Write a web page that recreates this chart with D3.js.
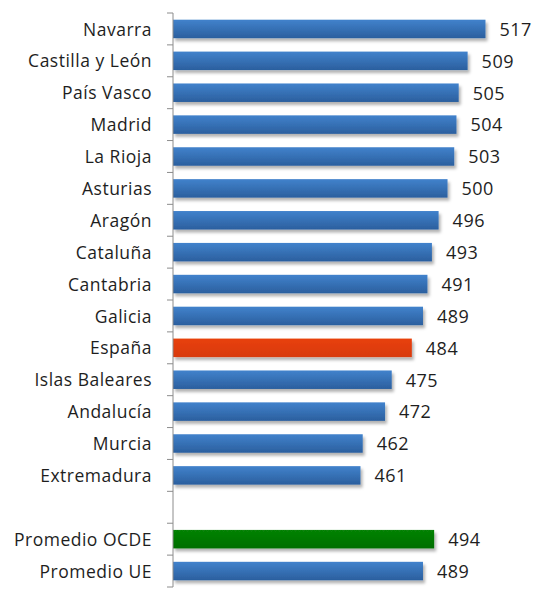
<!DOCTYPE html>
<html>
<head>
<meta charset="utf-8">
<script src="https://cdn.jsdelivr.net/npm/d3@7"></script>
<style>
  body { margin: 0; background: #fff; }
  text { font-family: "Open Sans", sans-serif; fill: #1e1e1e; }
</style>
</head>
<body>
<div id="chart"></div>
<script>
// PISA scores by region (blank row separates the averages)
var regions = ["Navarra", "Castilla y León", "País Vasco", "Madrid", "La Rioja", "Asturias",
  "Aragón", "Cataluña", "Cantabria", "Galicia", "España", "Islas Baleares", "Andalucía",
  "Murcia", "Extremadura", "", "Promedio OCDE", "Promedio UE"];
var scores = [517, 509, 505, 504, 503, 500, 496, 493, 491, 489, 484, 475, 472, 462, 461, null, 494, 489];
var kinds = ["r", "r", "r", "r", "r", "r", "r", "r", "r", "r", "es", "r", "r", "r", "r", "gap", "ocde", "r"];

var data = regions.map(function (d, i) {
  return { key: i, name: d, value: scores[i], kind: kinds[i] };
});

var width = 540, height = 611;
var margin = { top: 13, right: 0, bottom: 24, left: 173 };

var svg = d3.select("#chart").append("svg")
  .attr("width", width)
  .attr("height", height);

var defs = svg.append("defs");
function grad(id, top, bottom) {
  var g = defs.append("linearGradient").attr("id", id)
    .attr("x1", 0).attr("y1", 0).attr("x2", 0).attr("y2", 1);
  g.append("stop").attr("offset", "0%").attr("stop-color", top);
  g.append("stop").attr("offset", "100%").attr("stop-color", bottom);
}
grad("gBlue", "#4182cc", "#2b5f9e");
grad("gRed", "#e8400c", "#d83a08");
grad("gGreen", "#078207", "#006f00");

var f = defs.append("filter").attr("id", "shadow")
  .attr("x", "-5%").attr("y", "-30%").attr("width", "115%").attr("height", "190%");
f.append("feDropShadow").attr("dx", 2).attr("dy", 3).attr("stdDeviation", 1.5)
  .attr("flood-color", "#000").attr("flood-opacity", 0.3);

var y = d3.scaleBand()
  .domain(data.map(function (d) { return d.key; }))
  .range([margin.top, height - margin.bottom])
  .paddingInner(0.42)
  .paddingOuter(0.21);

var x = d3.scaleLinear()
  .domain([377, 540])
  .range([margin.left, margin.left + 163 * 2.232]);

var fills = { r: "url(#gBlue)", es: "url(#gRed)", ocde: "url(#gGreen)" };

var bars = data.filter(function (d) { return d.value != null; });

svg.append("g")
  .selectAll("rect")
  .data(bars)
  .enter()
  .append("rect")
  .attr("x", x(377))
  .attr("y", function (d) { return y(d.key); })
  .attr("width", function (d) { return x(d.value) - x(377); })
  .attr("height", y.bandwidth())
  .attr("fill", function (d) { return fills[d.kind]; })
  .attr("filter", "url(#shadow)");

// value labels
svg.append("g")
  .selectAll("text")
  .data(bars)
  .enter()
  .append("text")
  .attr("x", function (d) { return x(d.value) + 14; })
  .attr("y", function (d) { return y(d.key) + y.bandwidth() / 2; })
  .attr("dy", "0.38em")
  .style("font-size", "18px")
  .style("letter-spacing", "0.5px")
  .text(function (d) { return d.value; });

// category axis (left)
var step = y.step();
var axisG = svg.append("g");
axisG.append("line")
  .attr("x1", margin.left).attr("x2", margin.left)
  .attr("y1", margin.top).attr("y2", height - margin.bottom)
  .attr("stroke", "#8c8c8c").attr("stroke-width", 1);
axisG.selectAll("line.tick")
  .data(d3.range(data.length + 1))
  .enter()
  .append("line")
  .attr("class", "tick")
  .attr("x1", margin.left - 6).attr("x2", margin.left)
  .attr("y1", function (i) { return margin.top + i * step; })
  .attr("y2", function (i) { return margin.top + i * step; })
  .attr("stroke", "#8c8c8c").attr("stroke-width", 1);

axisG.selectAll("text")
  .data(data)
  .enter()
  .append("text")
  .attr("x", margin.left - 21)
  .attr("y", function (d) { return y(d.key) + y.bandwidth() / 2; })
  .attr("dy", "0.38em")
  .attr("text-anchor", "end")
  .style("font-size", "17.5px")
  .style("letter-spacing", "0.5px")
  .text(function (d) { return d.name; });
</script>
</body>
</html>
